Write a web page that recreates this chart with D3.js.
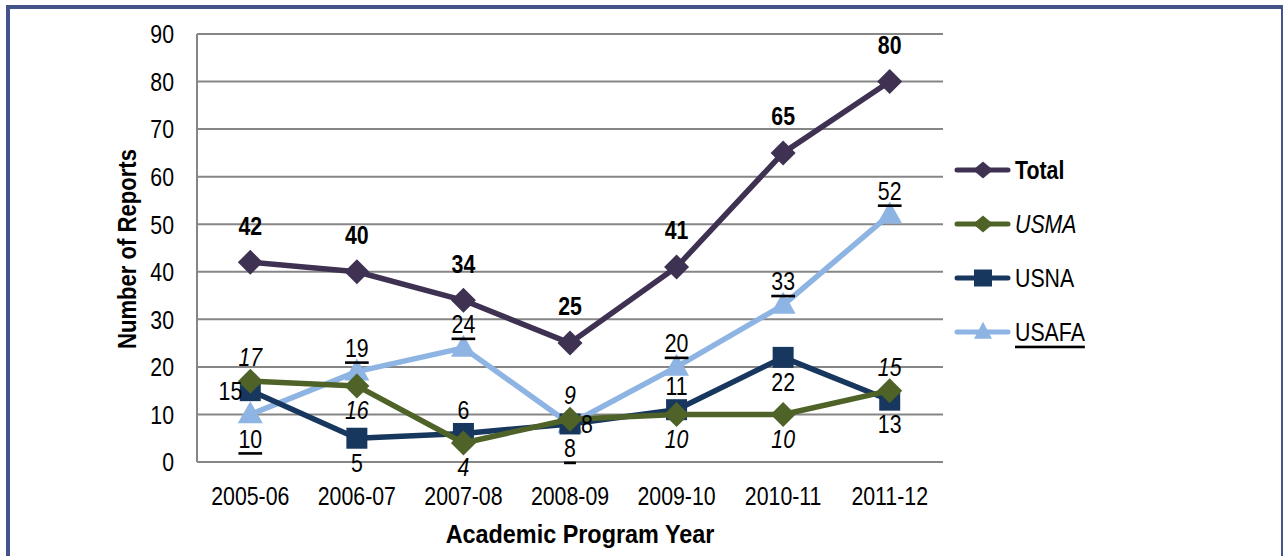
<!DOCTYPE html>
<meta charset="utf-8">
<style>
body { margin: 0; background: #fff; }
svg { display: block; }
text { font-family: "Liberation Sans", Arial, sans-serif; fill: #000; }
.grid line { stroke: #868686; stroke-width: 2; }
</style>
<svg width="1283" height="556"></svg>
<script src="https://d3js.org/d3.v7.min.js"></script>
<script>

var years = ["2005-06", "2006-07", "2007-08", "2008-09", "2009-10", "2010-11", "2011-12"];
var yTicks = [0, 10, 20, 30, 40, 50, 60, 70, 80, 90];

var total = [42, 40, 34, 25, 41, 65, 80];
var usma  = [17, 16, 4, 9, 10, 10, 15];
var usna  = [15, 5, 6, 8, 11, 22, 13];
var usafa = [10, 19, 24, 8, 20, 33, 52];

// where each data label sits relative to its point
var totalPos = ["top", "top", "top", "top", "top", "top", "top"];
var usmaPos  = ["above", "below", "below", "above", "below", "below", "above"];
var usnaPos  = ["left", "below", "above", "right", "above", "below", "below"];
var usafaPos = ["below", "above", "above", "below", "above", "above", "above"];

var series = [
  {name: "Total", values: total, color: "#3F3151", marker: "diamond", weight: "bold", italic: false, underline: false, pos: totalPos},
  {name: "USMA", values: usma, color: "#4F6228", marker: "diamond", weight: "normal", italic: true, underline: false, pos: usmaPos},
  {name: "USNA", values: usna, color: "#17375E", marker: "square", weight: "normal", italic: false, underline: false, pos: usnaPos},
  {name: "USAFA", values: usafa, color: "#8DB4E2", marker: "triangle", weight: "normal", italic: false, underline: true, pos: usafaPos}
];

var FS = 26;          // font size
var NARROW = 0.82;    // squeeze Liberation Sans to look like Arial Narrow

function at(px, py, k) { return "translate(" + px + "," + py + ") scale(" + (k || NARROW) + ",1)"; }

var svg = d3.select("svg");

// frame
svg.append("rect")
    .attr("x", 8).attr("y", 7)
    .attr("width", 1275).attr("height", 560)
    .attr("fill", "none")
    .attr("stroke", "#44548A")
    .attr("stroke-width", 4);

var x = d3.scalePoint().domain(years).range([197, 943]).padding(0.5);
var y = d3.scaleLinear().domain([0, 90]).range([462, 34]);

// gridlines
svg.append("g").attr("class", "grid")
  .selectAll("line")
  .data(yTicks)
  .enter().append("line")
    .attr("x1", 197).attr("x2", 943)
    .attr("y1", function(d) { return y(d); })
    .attr("y2", function(d) { return y(d); });

svg.append("line")
    .attr("x1", 197).attr("x2", 197)
    .attr("y1", y(0)).attr("y2", y(90))
    .attr("stroke", "#868686").attr("stroke-width", 2);

// y tick labels
svg.append("g")
  .selectAll("text")
  .data(yTicks)
  .enter().append("text")
    .attr("transform", function(d) { return at(174, y(d)); })
    .attr("dominant-baseline", "central")
    .attr("text-anchor", "end")
    .attr("font-size", FS)
    .text(function(d) { return d; });

// x tick labels
svg.append("g")
  .selectAll("text")
  .data(years)
  .enter().append("text")
    .attr("transform", function(d) { return at(x(d), 505); })
    .attr("text-anchor", "middle")
    .attr("font-size", FS)
    .text(function(d) { return d; });

svg.append("text")
    .attr("transform", at(580, 543, 0.9))
    .attr("text-anchor", "middle")
    .attr("font-size", FS)
    .attr("font-weight", "bold")
    .text("Academic Program Year");

svg.append("text")
    .attr("transform", "translate(136,249) rotate(-90) scale(0.85,1)")
    .attr("text-anchor", "middle")
    .attr("font-size", FS)
    .attr("font-weight", "bold")
    .text("Number of Reports");

// marker shapes, w/h are full width and height
function markerPath(type, w, h) {
  var p = d3.path();
  if (type == "diamond") {
    p.moveTo(0, -h / 2); p.lineTo(w / 2, 0); p.lineTo(0, h / 2); p.lineTo(-w / 2, 0);
  } else if (type == "square") {
    p.rect(-w / 2, -h / 2, w, h);
  } else {
    p.moveTo(0, -h * 0.6); p.lineTo(w / 2, h * 0.4); p.lineTo(-w / 2, h * 0.4);
  }
  p.closePath();
  return p.toString();
}
var markerDims = {diamond: [25, 25], square: [21, 21], triangle: [25, 22]};
var legendDims = {diamond: [20, 17], square: [18, 17], triangle: [18, 17]};

var line = d3.line()
    .x(function(d, i) { return x(years[i]); })
    .y(function(d) { return y(d); });

// draw lines in reverse so Total sits on top
series.slice().reverse().forEach(function(s) {
  var g = svg.append("g");
  g.append("path")
      .datum(s.values)
      .attr("d", line)
      .attr("fill", "none")
      .attr("stroke", s.color)
      .attr("stroke-width", 5.5)
      .attr("stroke-linejoin", "round");
  g.selectAll(".mk")
    .data(s.values)
    .enter().append("path")
      .attr("transform", function(d, i) { return "translate(" + x(years[i]) + "," + y(d) + ")"; })
      .attr("d", markerPath(s.marker, markerDims[s.marker][0], markerDims[s.marker][1]))
      .attr("fill", s.color);
});

// data labels
series.forEach(function(s) {
  svg.append("g")
    .selectAll("text")
    .data(s.values)
    .enter().append("text")
      .attr("transform", function(d, i) {
        var p = s.pos[i], px = x(years[i]), py = y(d);
        if (p == "left") px -= 8;
        if (p == "right") px += 11;
        if (p == "top") py -= 37;
        if (p == "above") py -= 24;
        if (p == "below") py += 24;
        return at(px, py);
      })
      .attr("dominant-baseline", "central")
      .attr("text-anchor", function(d, i) {
        var p = s.pos[i];
        return p == "left" ? "end" : (p == "right" ? "start" : "middle");
      })
      .attr("font-size", FS)
      .attr("font-weight", s.weight)
      .attr("font-style", s.italic ? "italic" : "normal")
      .style("text-decoration", s.underline ? "underline" : "none")
      .text(function(d) { return d; });
});

// legend
var legend = svg.append("g")
  .selectAll("g")
  .data(series)
  .enter().append("g")
    .attr("transform", function(d, i) { return "translate(0," + (170 + i * 54) + ")"; });

legend.append("line")
    .attr("x1", 957).attr("x2", 1008)
    .attr("stroke", function(d) { return d.color; })
    .attr("stroke-width", 5)
    .attr("stroke-linecap", "round");

legend.append("path")
    .attr("transform", "translate(983,0)")
    .attr("d", function(d) { return markerPath(d.marker, legendDims[d.marker][0], legendDims[d.marker][1]); })
    .attr("fill", function(d) { return d.color; });

legend.append("text")
    .attr("transform", at(1015, 0))
    .attr("dominant-baseline", "central")
    .attr("font-size", FS)
    .attr("font-weight", function(d) { return d.weight; })
    .attr("font-style", function(d) { return d.italic ? "italic" : "normal"; })
    .style("text-decoration", function(d) { return d.underline ? "underline" : "none"; })
    .text(function(d) { return d.name; });

</script>
